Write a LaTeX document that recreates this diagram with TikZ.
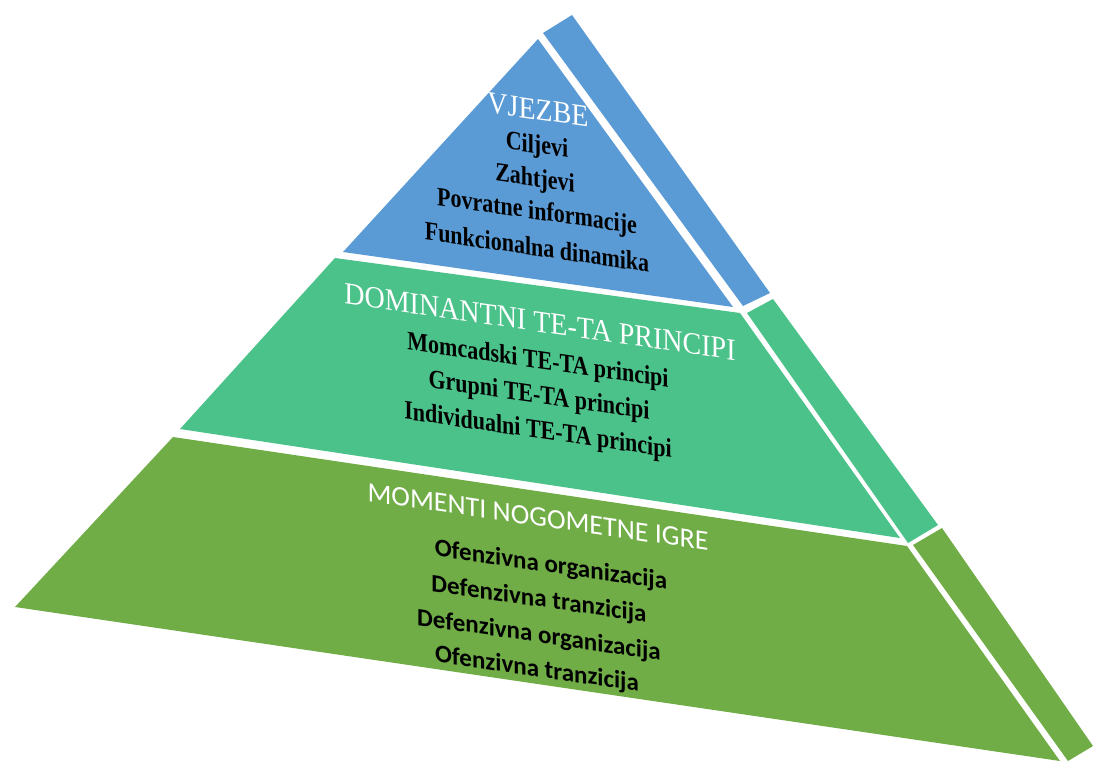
\documentclass[tikz,border=0pt]{standalone}
\usepackage{fontspec}
\setmainfont{Liberation Serif}
\newfontfamily\calib{Carlito}
\definecolor{pblue}{HTML}{5B9BD5}
\definecolor{pgreen}{HTML}{4CC28B}
\definecolor{polive}{HTML}{70AD47}
\newcommand\plab[4]{\begin{scope}[shift={#2}]\node[#1] (#3) {#4};\end{scope}}
\begin{document}
\begin{tikzpicture}[x=1pt,y=-1pt,
  ttl/.style={text=white, inner sep=0, yslant=-0.145, yscale=1.1, font=\fontsize{28}{30}\selectfont},
  itm/.style={text=black, inner sep=0, yslant=-0.145, yscale=1.2, font=\fontsize{22}{24}\selectfont\bfseries},
  cttl/.style={text=white, inner sep=0, yslant=-0.145, font=\calib\fontsize{28}{30}\selectfont},
  citm/.style={text=black, inner sep=0, yslant=-0.145, font=\calib\bfseries\fontsize{25}{27}\selectfont}]
\useasboundingbox (0,0) rectangle (1093,761);
% front faces
\fill[pblue] (538,39) -- (343,252) -- (733,307) -- cycle;
\fill[pgreen] (335,258) -- (740,313) -- (900,538) -- (180,429) -- cycle;
\fill[polive] (173,437) -- (907,546) -- (1060,761) -- (15,607) -- cycle;
% side faces
\fill[pblue] (543,33) -- (572,15) -- (770,293) -- (743,306) -- cycle;
\fill[pgreen] (747,313) -- (773,299) -- (938,525) -- (908,543) -- cycle;
\fill[polive] (913,545) -- (942,528) -- (1093,746) -- (1068,761) -- cycle;
% texts
\plab{ttl}{(538,110)}{t1}{VJEZBE}
\plab{itm}{(537,147)}{a1}{Ciljevi}
\plab{itm}{(535,180)}{a2}{Zahtjevi}
\plab{itm}{(537,213)}{a3}{Povratne informacije}
\plab{itm}{(537,247)}{a4}{Funkcionalna dinamika}
\plab{ttl}{(540,322)}{t2}{DOMINANTNI TE-TA PRINCIPI}
\plab{itm}{(538,362)}{b1}{Momcadski TE-TA principi}
\plab{itm}{(539,397)}{b2}{Grupni TE-TA principi}
\plab{itm}{(538,432)}{b3}{Individualni TE-TA principi}
\plab{cttl}{(538,517)}{t3}{MOMENTI NOGOMETNE IGRE}
\plab{citm}{(551,566)}{c1}{Ofenzivna organizacija}
\plab{citm}{(539,600)}{c2}{Defenzivna tranzicija}
\plab{citm}{(539,636)}{c3}{Defenzivna organizacija}
\plab{citm}{(537,670)}{c4}{Ofenzivna tranzicija}
\end{tikzpicture}
\end{document}
